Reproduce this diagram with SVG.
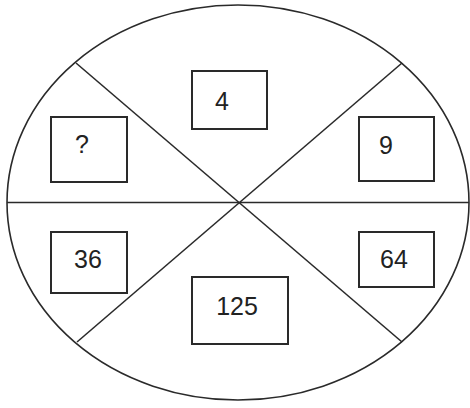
<svg xmlns="http://www.w3.org/2000/svg" width="470" height="408" viewBox="0 0 470 408">
<style>
.ln{stroke:#2a2a2a;stroke-width:1.6;fill:none}
.bx{fill:#fff;stroke:#2a2a2a;stroke-width:2}
.t{font-family:"Liberation Sans",Arial,sans-serif;font-size:25px;fill:#222;text-anchor:middle}
</style>
<rect width="470" height="408" fill="#fff"/>
<g id="connectors">
<ellipse class="ln" cx="238" cy="202.5" rx="231" ry="197.5"/>
<line class="ln" x1="7" y1="202.5" x2="469" y2="202.5"/>
<line class="ln" x1="76" y1="63" x2="402" y2="342"/>
<line class="ln" x1="402" y1="63" x2="77" y2="342"/>
</g>
<g id="n4"><rect class="bx" x="192" y="71" width="75" height="58"/><text class="t" x="222" y="110">4</text></g>
<g id="nq"><rect class="bx" x="51" y="117" width="76" height="65"/><text class="t" x="82" y="153">?</text></g>
<g id="n9"><rect class="bx" x="359" y="117" width="75" height="64"/><text class="t" x="386" y="154">9</text></g>
<g id="n36"><rect class="bx" x="51" y="232" width="76" height="61"/><text class="t" x="88" y="268">36</text></g>
<g id="n64"><rect class="bx" x="359" y="232" width="75" height="55"/><text class="t" x="394" y="268">64</text></g>
<g id="n125"><rect class="bx" x="192" y="277" width="96" height="67"/><text class="t" x="237" y="315">125</text></g>
</svg>
